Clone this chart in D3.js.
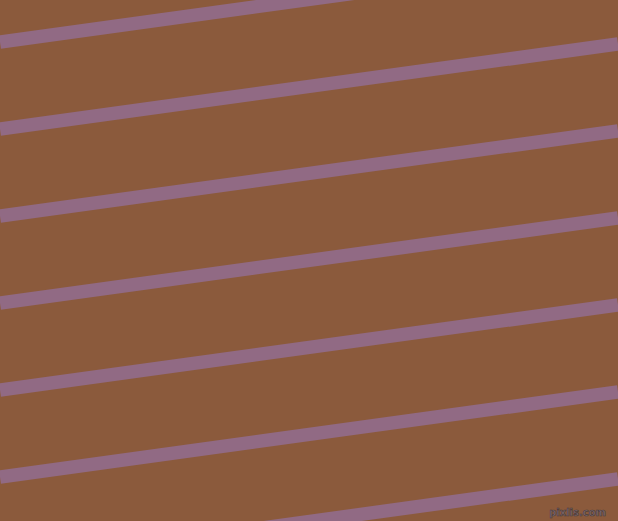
<!DOCTYPE html>
<meta charset="utf-8">
<head>
    <title>Stripes</title>
    <script src="https://cdn.jsdelivr.net/npm/d3@7"></script>
    <style>
        body { margin: 0; overflow: hidden; background: #8b5a3c; }
    </style>
</head>
<body>
<div id="chart"></div>
<script>
    // stripe centres where they cross the left edge (y at x = 0)
    const leftY = [42, 129, 216, 303, 390, 477, 564];
    // the same stripes where they cross the right edge (y at x = 618)
    const rightY = [-43, 44, 131, 218, 305, 392, 479];
    const watermark = ["pixlis.com"];

    const width = 618, height = 521;

    const svg = d3.select("#chart").append("svg")
        .attr("width", width)
        .attr("height", height);

    var x = d3.scaleLinear().domain([0, 1]).range([0, width]);
    var y = d3.scaleLinear().domain([0, height]).range([0, height]);

    svg.append("rect")
        .attr("width", width)
        .attr("height", height)
        .attr("fill", "#8b5a3c");

    var line = d3.line()
        .x(d => x(d[0]))
        .y(d => y(d[1]));

    svg.append("g")
        .selectAll("path")
        .data(leftY.map((d, i) => [[0, d], [1, rightY[i]]]))
        .enter().append("path")
        .attr("d", line)
        .attr("stroke", "#916a84")
        .attr("stroke-width", 13.4)
        .attr("fill", "none");

    svg.append("text")
        .attr("x", width - 12)
        .attr("y", height - 5)
        .attr("text-anchor", "end")
        .style("font", "bold 10px 'DejaVu Sans', sans-serif")
        .attr("fill", "#7c6a70")
        .attr("stroke", "#4a3a3a")
        .attr("stroke-width", 0.6)
        .text(watermark[0]);
</script>
</body>
